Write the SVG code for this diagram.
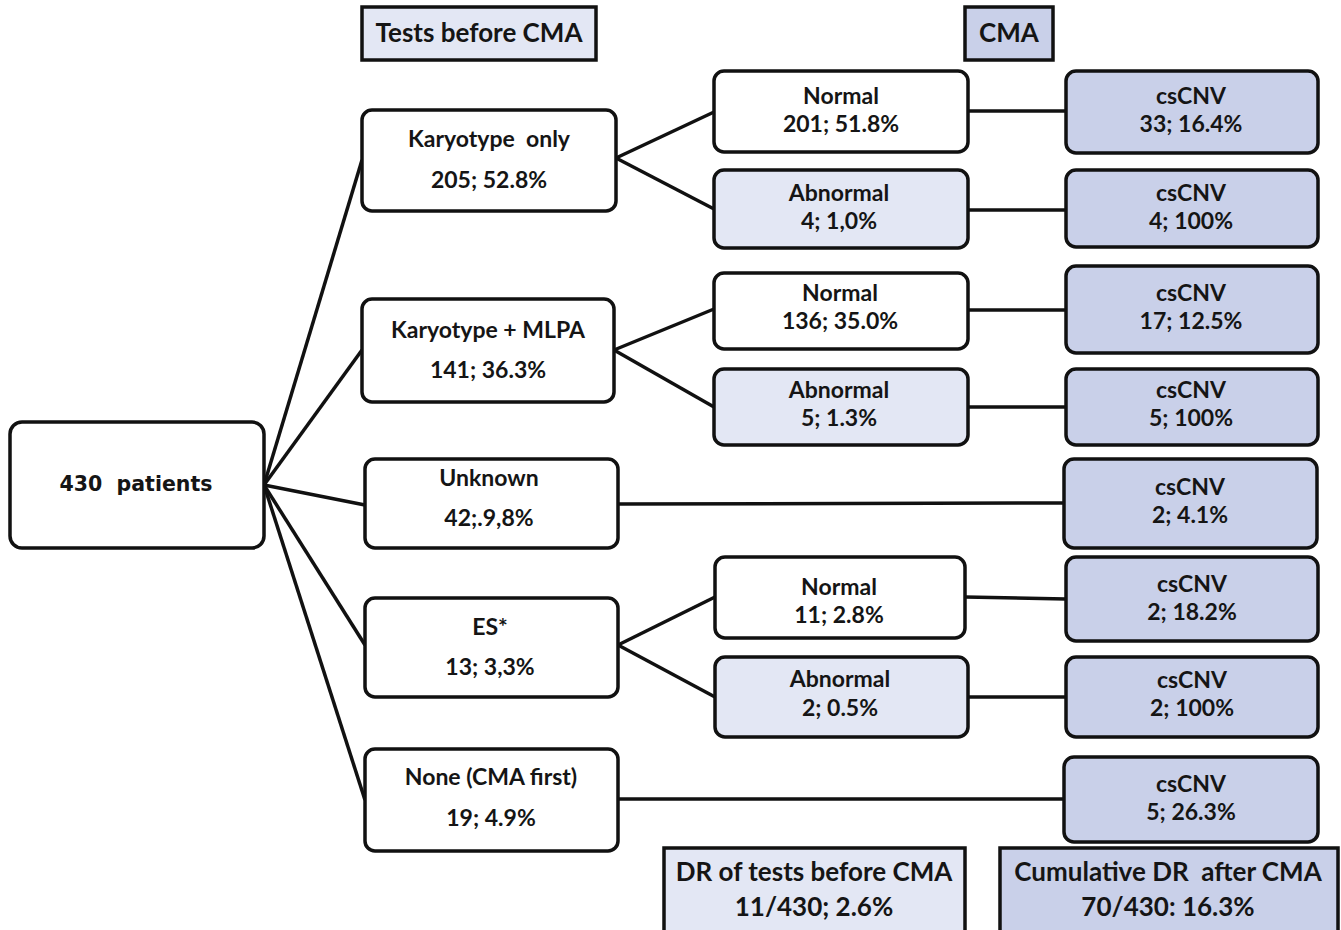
<svg xmlns="http://www.w3.org/2000/svg" width="1341" height="930" viewBox="0 0 1341 930">
<style>
.b{stroke:#111;stroke-width:3.5;}
.w{fill:#fff;}
.l{fill:#e3e7f4;}
.d{fill:#c9d0e9;}
text{white-space:pre;}
.t{font-family:Lato,"Open Sans",sans-serif;font-weight:bold;font-size:23px;fill:#151515;text-anchor:middle;}
.h{font-size:26px;}
.v{font-family:"DejaVu Sans",Verdana,sans-serif;font-weight:bold;font-size:20.5px;fill:#151515;text-anchor:middle;}
.c line{stroke:#111;stroke-width:3.5;}
</style>
<g class="c" id="connectors">
<line x1="264" y1="485" x2="362" y2="160"/>
<line x1="264" y1="485" x2="362" y2="350"/>
<line x1="264" y1="485" x2="365" y2="505"/>
<line x1="264" y1="485" x2="365" y2="645"/>
<line x1="264" y1="485" x2="365" y2="800"/>
<line x1="616" y1="158" x2="714" y2="112"/>
<line x1="616" y1="158" x2="714" y2="209"/>
<line x1="614" y1="350" x2="714" y2="309"/>
<line x1="614" y1="350" x2="714" y2="407"/>
<line x1="618" y1="645" x2="715" y2="597"/>
<line x1="618" y1="645" x2="715" y2="697"/>
<line x1="968" y1="111" x2="1066" y2="111"/>
<line x1="968" y1="210" x2="1066" y2="210"/>
<line x1="968" y1="310" x2="1066" y2="310"/>
<line x1="968" y1="407" x2="1066" y2="407"/>
<line x1="618" y1="504" x2="1064" y2="503"/>
<line x1="965" y1="597" x2="1066" y2="599"/>
<line x1="968" y1="697" x2="1066" y2="697"/>
<line x1="618" y1="799" x2="1064" y2="799"/>
</g>
<g id="h1"><rect class="b l" x="362" y="7" width="234" height="53"/><text class="t h" x="479" y="42">Tests before CMA</text></g>
<g id="h2"><rect class="b d" x="965" y="7" width="88" height="53"/><text class="t h" x="1009" y="42">CMA</text></g>
<g id="root"><rect class="b w" x="10" y="422" width="254" height="126" rx="12"/><text class="v" x="136" y="491">430  patients</text></g>
<g id="k1"><rect class="b w" x="362" y="110" width="254" height="101" rx="10"/><text class="t" x="489" y="147">Karyotype  only</text><text class="t" x="489" y="188">205; 52.8%</text></g>
<g id="k2"><rect class="b w" x="362" y="299" width="252" height="103" rx="10"/><text class="t" x="488" y="338">Karyotype + MLPA</text><text class="t" x="488" y="378">141; 36.3%</text></g>
<g id="unk"><rect class="b w" x="365" y="459" width="253" height="89" rx="10"/><text class="t" x="489" y="486">Unknown</text><text class="t" x="489" y="526">42;.9,8%</text></g>
<g id="es"><rect class="b w" x="365" y="598" width="253" height="99" rx="10"/><text class="t" x="490" y="635">ES*</text><text class="t" x="490" y="675">13; 3,3%</text></g>
<g id="none"><rect class="b w" x="365" y="749" width="253" height="102" rx="10"/><text class="t" x="491" y="785">None (CMA first)</text><text class="t" x="491" y="826">19; 4.9%</text></g>
<g id="n1"><rect class="b w" x="714" y="71" width="254" height="81" rx="10"/><text class="t" x="841" y="104">Normal</text><text class="t" x="841" y="132">201; 51.8%</text></g>
<g id="a1"><rect class="b l" x="714" y="170" width="254" height="78" rx="10"/><text class="t" x="839" y="201">Abnormal</text><text class="t" x="839" y="229">4; 1,0%</text></g>
<g id="n2"><rect class="b w" x="714" y="273" width="254" height="76" rx="10"/><text class="t" x="840" y="301">Normal</text><text class="t" x="840" y="329">136; 35.0%</text></g>
<g id="a2"><rect class="b l" x="714" y="369" width="254" height="76" rx="10"/><text class="t" x="839" y="398">Abnormal</text><text class="t" x="839" y="426">5; 1.3%</text></g>
<g id="n3"><rect class="b w" x="715" y="557" width="250" height="81" rx="10"/><text class="t" x="839" y="595">Normal</text><text class="t" x="839" y="623">11; 2.8%</text></g>
<g id="a3"><rect class="b l" x="715" y="657" width="253" height="80" rx="10"/><text class="t" x="840" y="687">Abnormal</text><text class="t" x="840" y="716">2; 0.5%</text></g>
<g id="c1"><rect class="b d" x="1066" y="71" width="252" height="82" rx="10"/><text class="t" x="1191" y="104">csCNV</text><text class="t" x="1191" y="132">33; 16.4%</text></g>
<g id="c2"><rect class="b d" x="1066" y="170" width="252" height="77" rx="10"/><text class="t" x="1191" y="201">csCNV</text><text class="t" x="1191" y="229">4; 100%</text></g>
<g id="c3"><rect class="b d" x="1066" y="266" width="252" height="87" rx="10"/><text class="t" x="1191" y="301">csCNV</text><text class="t" x="1191" y="329">17; 12.5%</text></g>
<g id="c4"><rect class="b d" x="1066" y="369" width="252" height="76" rx="10"/><text class="t" x="1191" y="398">csCNV</text><text class="t" x="1191" y="426">5; 100%</text></g>
<g id="c5"><rect class="b d" x="1064" y="459" width="253" height="89" rx="10"/><text class="t" x="1190" y="495">csCNV</text><text class="t" x="1190" y="523">2; 4.1%</text></g>
<g id="c6"><rect class="b d" x="1066" y="557" width="252" height="84" rx="10"/><text class="t" x="1192" y="592">csCNV</text><text class="t" x="1192" y="620">2; 18.2%</text></g>
<g id="c7"><rect class="b d" x="1066" y="657" width="252" height="80" rx="10"/><text class="t" x="1192" y="688">csCNV</text><text class="t" x="1192" y="716">2; 100%</text></g>
<g id="c8"><rect class="b d" x="1064" y="757" width="254" height="85" rx="10"/><text class="t" x="1191" y="792">csCNV</text><text class="t" x="1191" y="820">5; 26.3%</text></g>
<g id="dr1"><rect class="b l" x="664" y="848" width="301" height="90"/><text class="t h" x="814" y="881">DR of tests before CMA</text><text class="t h" x="814" y="916">11/430; 2.6%</text></g>
<g id="dr2"><rect class="b d" x="1000" y="848" width="338" height="90"/><text class="t h" x="1168" y="881">Cumulative DR  after CMA</text><text class="t h" x="1168" y="916">70/430: 16.3%</text></g>
</svg>
